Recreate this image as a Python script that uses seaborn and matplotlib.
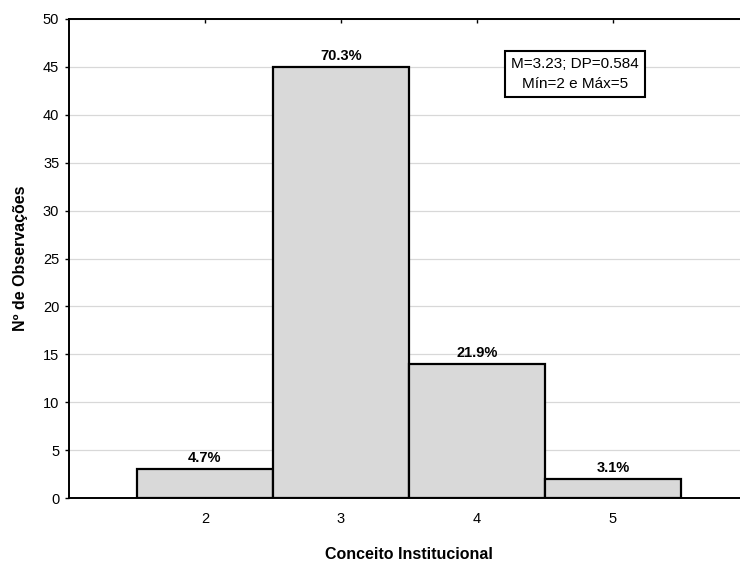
import pandas as pd
import seaborn as sns
import matplotlib.pyplot as plt

# dados
conceitos = ['2', '3', '4', '5']
observacoes = [3, 45, 14, 2]
percentuais = ['4.7%', '70.3%', '21.9%', '3.1%']
caixa_texto = 'M=3.23; DP=0.584\nMín=2 e Máx=5'

df = pd.DataFrame({'Conceito': conceitos, 'Obs': observacoes})

sns.set_style('white')
plt.rcParams['font.family'] = ['Liberation Sans', 'DejaVu Sans']
plt.rcParams['text.color'] = 'black'
plt.rcParams['axes.labelcolor'] = 'black'

fig = plt.figure(figsize=(7.4, 5.62), dpi=100)
ax = fig.add_axes([69 / 740, 1 - 498 / 562, (749 - 69) / 740, (498 - 19) / 562])

sns.barplot(data=df, x='Conceito', y='Obs', order=conceitos, color='#d9d9d9',
            saturation=1, width=1.0, edgecolor='black', linewidth=1.6, ax=ax)

ax.set_xlim(-1, 4)
ax.set_ylim(0, 50)
ax.set_yticks(range(0, 51, 5))
ax.yaxis.grid(True, color='#d8d8d8', linewidth=0.9)
ax.set_axisbelow(True)

for i, (v, p) in enumerate(zip(observacoes, percentuais)):
    ax.text(i, v + 0.45, p, ha='center', va='bottom', fontsize=10.5, fontweight='bold')

ax.set_xlabel('Conceito Institucional', fontsize=11.5, fontweight='bold', labelpad=15)
ax.set_ylabel('Nº de Observações', fontsize=11.5, fontweight='bold', labelpad=11)

for s in ['left', 'bottom', 'top']:
    ax.spines[s].set_color('black')
    ax.spines[s].set_linewidth(1.4)
ax.spines['right'].set_visible(False)

ax.tick_params(axis='x', direction='in', length=3, width=1, top=True, bottom=True,
               labelsize=10.5, pad=10, colors='black')
ax.tick_params(axis='y', direction='out', length=3, width=1, left=True,
               labelsize=10.5, pad=4, colors='black')

ax.text(0.744, 0.885, caixa_texto, transform=ax.transAxes, ha='center', va='center',
        fontsize=11, linespacing=1.5,
        bbox=dict(boxstyle='square,pad=0.42', facecolor='white', edgecolor='black', linewidth=1.5))

fig.savefig('out.png', dpi=100)
